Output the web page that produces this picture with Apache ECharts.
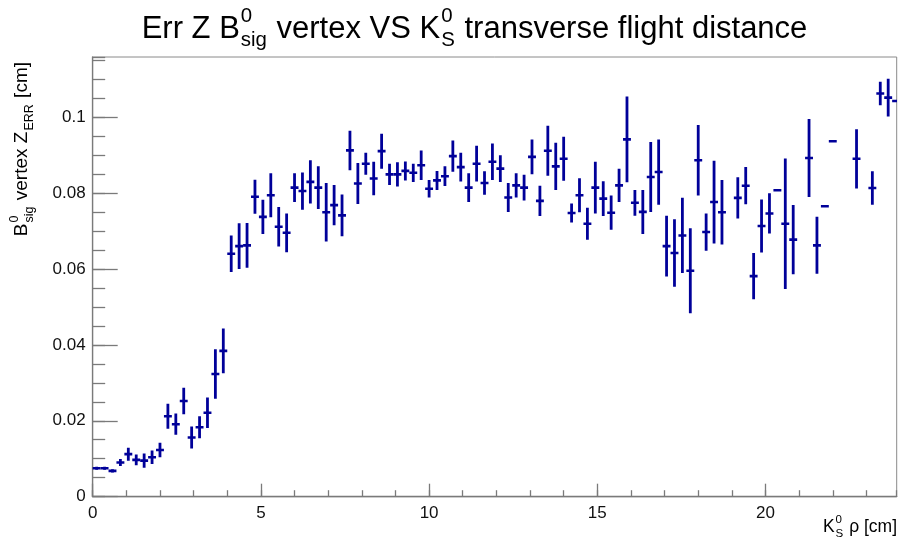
<!DOCTYPE html>
<html>
<head>
<meta charset="utf-8">
<script src="https://cdn.jsdelivr.net/npm/echarts@6/dist/echarts.min.js"></script>
<style>html,body{margin:0;padding:0;background:#fff}#c{width:899px;height:551px}</style>
</head>
<body>
<div id="c"></div>
<script>
// ---- binning of the profile histogram (x axis definition) ----
const xLow = 0, xHigh = 24, nBins = 102;
const xAxisMax = 23.9;
const yAxisMax = 0.1158;
const xTickLabels = ['0', '5', '10', '15', '20'];
const yTickLabels = ['0', '0.02', '0.04', '0.06', '0.08', '0.1'];

// ---- bin contents (mean Err Z) ; null = empty bin ----
const binValues = [
  0.0075, 0.0075, 0.0068, 0.0090, 0.0112, 0.0097, 0.0095, 0.0104, 0.0123, 0.0212,
  0.0191, 0.0252, 0.0156, 0.0183, 0.0221, 0.0323, 0.0384, 0.0640, 0.0660, 0.0662,
  0.0790, 0.0737, 0.0794, 0.0711, 0.0695, 0.0814, 0.0805, 0.0829, 0.0814, 0.0749,
  0.0768, 0.0741, 0.0912, 0.0825, 0.0877, 0.0838, 0.0910, 0.0849, 0.0849, 0.0858,
  0.0853, 0.0873, 0.0811, 0.0833, 0.0844, 0.0897, 0.0868, 0.0814, 0.0877, 0.0826,
  0.0882, 0.0864, 0.0788, 0.0820, 0.0814, 0.0895, 0.0779, 0.0911, 0.0870, 0.0890,
  0.0747, 0.0794, 0.0719, 0.0814, 0.0785, 0.0748, 0.0820, 0.0941, 0.0774, 0.0750,
  0.0842, 0.0855, 0.0660, 0.0642, 0.0688, 0.0595, 0.0886, 0.0697, 0.0776, 0.0749,
  null,   0.0787, 0.0819, 0.0581, 0.0713, 0.0746, 0.0807, 0.0719, 0.0677, null,
  0.0892, 0.0662, 0.0765, 0.0936, null,   null,   0.0890, null,   0.0813, 0.1062,
  0.1051, 0.1042
];
// ---- errors on the bin contents ----
const binErrors = [
  0.0004, 0.0004, 0.0004, 0.0009, 0.0017, 0.0014, 0.0019, 0.0018, 0.0019, 0.0033,
  0.0028, 0.0035, 0.0029, 0.0029, 0.0040, 0.0065, 0.0059, 0.0048, 0.0060, 0.0059,
  0.0045, 0.0045, 0.0058, 0.0052, 0.0051, 0.0038, 0.0049, 0.0057, 0.0056, 0.0077,
  0.0053, 0.0055, 0.0052, 0.0054, 0.0029, 0.0044, 0.0046, 0.0028, 0.0032, 0.0025,
  0.0024, 0.0039, 0.0023, 0.0025, 0.0026, 0.0041, 0.0038, 0.0038, 0.0047, 0.0031,
  0.0048, 0.0035, 0.0038, 0.0032, 0.0034, 0.0046, 0.0040, 0.0066, 0.0062, 0.0058,
  0.0025, 0.0045, 0.0042, 0.0068, 0.0046, 0.0045, 0.0044, 0.0113, 0.0034, 0.0058,
  0.0092, 0.0086, 0.0080, 0.0089, 0.0099, 0.0112, 0.0093, 0.0049, 0.0109, 0.0085,
  null,   0.0054, 0.0049, 0.0061, 0.0070, 0.0053, 0.0000, 0.0172, 0.0091, null,
  0.0103, 0.0075, 0.0000, 0.0000, null,   null,   0.0078, null,   0.0044, 0.0031,
  0.0050, 0.0000
];

const binWidth = (xHigh - xLow) / nBins;
const seriesData = [];
binValues.forEach((v, i) => {
  if (v === null) return;
  seriesData.push([xLow + (i + 0.5) * binWidth, v, binErrors[i]]);
});

const MARK = '#000099';
const FONT = '"Liberation Sans", Arial, Helvetica, sans-serif';
const ctx = document.createElement('canvas').getContext('2d');
function tw(s, size) { ctx.font = size + 'px ' + FONT; return ctx.measureText(s).width; }
function T(text, x, y, size) {
  return { type: 'text', x: x, y: y, silent: true,
    style: { text: text, font: size + 'px ' + FONT, fill: '#000',
             align: 'left', verticalAlign: 'middle', textAlign: 'left', textVerticalAlign: 'middle' } };
}
function scripted(parts, size) {
  const children = []; let x = 0; const s2 = size * 0.66;
  parts.forEach(p => {
    if (typeof p === 'string') { children.push(T(p, x, 0, size)); x += tw(p, size); }
    else {
      let w = 0;
      if (p.sup) { children.push(T(p.sup, x + 1, -0.40 * size, s2)); w = Math.max(w, tw(p.sup, s2)); }
      if (p.sub) { children.push(T(p.sub, x + 1, 0.38 * size, s2)); w = Math.max(w, tw(p.sub, s2)); }
      x += w + 2;
    }
  });
  return { children, width: x };
}

const title = scripted(['Err Z B', { sup: '0', sub: 'sig' }, ' vertex VS K', { sup: '0', sub: 'S' }, ' transverse flight distance'], 31);
const yTitle = scripted(['B', { sup: '0', sub: 'sig' }, ' vertex Z', { sub: 'ERR' }, ' [cm]'], 19);
const xTitle = scripted(['K', { sup: '0', sub: 'S' }, ' \u03c1 [cm]'], 17.5);

const gridL = 92.7, gridR = 2.3, gridT = 57, gridB = 54.3;
const chart = echarts.init(document.getElementById('c'), null, { renderer: 'canvas' });
const labelStyle = { color: '#111', fontSize: 17, fontFamily: FONT };

chart.setOption({
  animation: false,
  backgroundColor: '#fff',
  grid: { left: gridL, right: gridR, top: gridT, bottom: gridB, show: true, borderColor: '#8a8a8a', borderWidth: 1, containLabel: false },
  xAxis: [
    { type: 'value', min: 0, max: xAxisMax, interval: 5, position: 'bottom',
      axisLine: { show: true, onZero: false, lineStyle: { color: '#7a7a7a', width: 1.3 } },
      axisTick: { show: true, inside: true, length: 13, lineStyle: { color: '#7a7a7a', width: 1.3 } },
      axisLabel: { ...labelStyle, margin: 8, showMaxLabel: false,
                   formatter: v => { const k = Math.round(v / 5); return (Math.abs(v - k * 5) < 1e-6 && xTickLabels[k]) ? xTickLabels[k] : ''; } },
      splitLine: { show: false } },
    { type: 'value', min: 0, max: xAxisMax, interval: 1, position: 'bottom', gridIndex: 0,
      axisLine: { show: false, onZero: false },
      axisTick: { show: true, inside: true, length: 6.5, lineStyle: { color: '#7a7a7a', width: 1.3 } },
      axisLabel: { show: false }, splitLine: { show: false } }
  ],
  yAxis: [
    { type: 'value', min: 0, max: yAxisMax, interval: 0.02, position: 'left',
      axisLine: { show: true, onZero: false, lineStyle: { color: '#7a7a7a', width: 1.3 } },
      axisTick: { show: true, inside: true, length: 25, lineStyle: { color: '#7a7a7a', width: 1.3 } },
      axisLabel: { ...labelStyle, margin: 7, showMaxLabel: false,
                   formatter: v => { const k = Math.round(v / 0.02); return (Math.abs(v - k * 0.02) < 1e-9 && yTickLabels[k]) ? yTickLabels[k] : ''; } },
      splitLine: { show: false } },
    { type: 'value', min: 0, max: yAxisMax, interval: 0.005, position: 'left',
      axisLine: { show: false, onZero: false },
      axisTick: { show: true, inside: true, length: 12.5, lineStyle: { color: '#7a7a7a', width: 1.3 } },
      axisLabel: { show: false }, splitLine: { show: false } }
  ],
  series: [{
    type: 'custom', xAxisIndex: 0, yAxisIndex: 0, clip: true,
    data: seriesData,
    renderItem: function (params, api) {
      const x = api.value(0), y = api.value(1), e = api.value(2);
      const l = api.coord([x - binWidth / 2, y]), r = api.coord([x + binWidth / 2, y]);
      const t = api.coord([x, y + e]), b = api.coord([x, y - e]);
      const ch = [{ type: 'line', shape: { x1: l[0], y1: l[1], x2: r[0], y2: r[1] }, style: { stroke: MARK, lineWidth: 2.6 } }];
      if (e > 0) ch.push({ type: 'line', shape: { x1: t[0], y1: t[1], x2: b[0], y2: b[1] }, style: { stroke: MARK, lineWidth: 2.8 } });
      return { type: 'group', children: ch };
    }
  }],
  graphic: [
    { type: 'group', x: 474.5 - title.width / 2, y: 29, children: title.children },
    { type: 'group', x: 22, y: 62 + yTitle.width, rotation: Math.PI / 2, children: yTitle.children },
    { type: 'group', x: 897 - xTitle.width, y: 527, children: xTitle.children }
  ]
});
</script>
</body>
</html>
